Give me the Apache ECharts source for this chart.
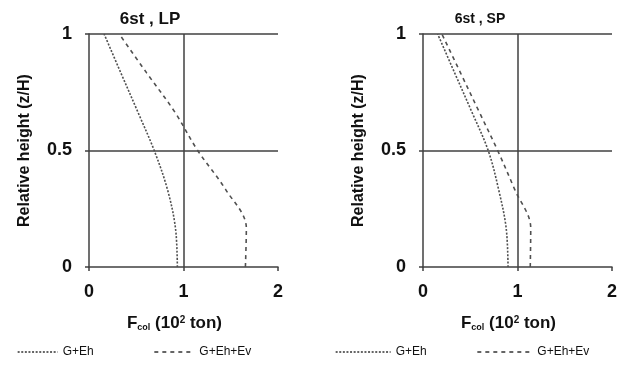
<!DOCTYPE html>
<html>
<head>
<meta charset="utf-8">
<script src="https://cdn.jsdelivr.net/npm/echarts@6/dist/echarts.min.js"></script>
<style>
  html, body { margin: 0; padding: 0; background: #fff; }
  #chart { width: 624px; height: 366px; }
</style>
</head>
<body>
<div id="chart"></div>
<script>
// Relative height levels (z/H) at each storey of the 6-storey frame
const heightLevels = [0, 0.167, 0.333, 0.5, 0.667, 0.833, 1];

// Column force F_col (10^2 ton), long-period (LP) record
const lpGEh   = [0.935, 0.915, 0.83, 0.69, 0.515, 0.337, 0.16];
const lpGEhEv = [1.655, 1.665, 1.445, 1.15, 0.905, 0.61, 0.32];

// Column force F_col (10^2 ton), short-period (SP) record
const spGEh   = [0.90, 0.88, 0.80, 0.69, 0.515, 0.335, 0.155];
const spGEhEv = [1.135, 1.14, 0.97, 0.79, 0.593, 0.397, 0.20];

const xTicks = [0, 1, 2];
const yTicks = [0, 0.5, 1];
const panelTitles = ['6st , LP', '6st , SP'];
const seriesNames = ['G+Eh', 'G+Eh+Ev'];

const FONT = 'Arial, "Liberation Sans", sans-serif';
const AXIS_COLOR = '#404040';

function pairs(xs) {
  return xs.map((x, i) => [x, heightLevels[i]]);
}

function xAxis(gridIndex) {
  return {
    type: 'value', gridIndex,
    min: xTicks[0], max: xTicks[xTicks.length - 1], interval: 1,
    name: '{f|F}{sub|col}{t| (10}{sup|2}{t| ton)}',
    nameLocation: 'middle', nameGap: 48,
    nameTextStyle: {
      padding: [0, 18, 0, 0],
      rich: {
        f:   { fontFamily: FONT, fontSize: 17, fontWeight: 'bold', color: '#111' },
        t:   { fontFamily: FONT, fontSize: 17, fontWeight: 'bold', color: '#111' },
        sub: { fontFamily: FONT, fontSize: 9, fontWeight: 'bold', color: '#111', verticalAlign: 'bottom', padding: [7, 0, 0, 0] },
        sup: { fontFamily: FONT, fontSize: 10, fontWeight: 'bold', color: '#111', verticalAlign: 'top', padding: [0, 0, 6, 0] }
      }
    },
    axisLine: { show: true, onZero: false, lineStyle: { color: AXIS_COLOR, width: 1.5 } },
    axisTick: { show: true, length: 4, lineStyle: { color: AXIS_COLOR, width: 1.5 } },
    axisLabel: { margin: 16, fontFamily: FONT, fontSize: 18, fontWeight: 'bold', color: '#111' },
    splitLine: { show: true, showMinLine: false, showMaxLine: false, lineStyle: { color: AXIS_COLOR, width: 1.5 } }
  };
}

function yAxis(gridIndex) {
  return {
    type: 'value', gridIndex,
    min: yTicks[0], max: yTicks[yTicks.length - 1], interval: 0.5,
    name: 'Relative height (z/H)',
    nameLocation: 'middle', nameGap: 56,
    nameTextStyle: { fontFamily: FONT, fontSize: 16, fontWeight: 'bold', color: '#111' },
    axisLine: { show: true, onZero: false, lineStyle: { color: AXIS_COLOR, width: 1.5 } },
    axisTick: { show: true, length: 4, lineStyle: { color: AXIS_COLOR, width: 1.5 } },
    axisLabel: { margin: 17, fontFamily: FONT, fontSize: 18, fontWeight: 'bold', color: '#111' },
    splitLine: { show: true, showMinLine: false, lineStyle: { color: AXIS_COLOR, width: 1.5 } }
  };
}

const dottedStyle = { color: '#505050', width: 1.6, type: [2, 1.6] };
const dashedStyle = { color: '#505050', width: 1.6, type: [4, 4] };

function curve(name, idx, values, style) {
  return {
    name, type: 'line', xAxisIndex: idx, yAxisIndex: idx,
    data: pairs(values), smooth: 0.35, symbol: 'none',
    lineStyle: style, itemStyle: { color: style.color },
    silent: true, animation: false
  };
}

// Line-only legend keys: the marker symbol is hidden, the dash pattern is kept
function legend(left, width, gap) {
  return {
    left, bottom: 3, itemWidth: width, itemHeight: 8, itemGap: gap,
    data: seriesNames, selectedMode: false, orient: 'horizontal',
    itemStyle: { opacity: 0 },
    lineStyle: { color: '#333', width: 1.3 },
    textStyle: { fontFamily: FONT, fontSize: 12, color: '#111' }
  };
}

const chart = echarts.init(document.getElementById('chart'), null, { renderer: 'canvas' });
chart.setOption({
  animation: false,
  backgroundColor: '#fff',
  title: [
    { text: panelTitles[0], left: 145, top: 6, textAlign: 'center',
      textStyle: { fontFamily: FONT, fontSize: 17, fontWeight: 'bold', color: '#111' } },
    { text: panelTitles[1], left: 475, top: 7, textAlign: 'center',
      textStyle: { fontFamily: FONT, fontSize: 14, fontWeight: 'bold', color: '#111' } }
  ],
  grid: [
    { left: 89, top: 34, width: 189, height: 233 },
    { left: 423, top: 34, width: 189, height: 233 }
  ],
  xAxis: [xAxis(0), xAxis(1)],
  yAxis: [yAxis(0), yAxis(1)],
  legend: [legend(12, 40, 60), legend(330, 55, 50)],
  series: [
    curve(seriesNames[0], 0, lpGEh, dottedStyle),
    curve(seriesNames[1], 0, lpGEhEv, dashedStyle),
    curve(seriesNames[0], 1, spGEh, dottedStyle),
    curve(seriesNames[1], 1, spGEhEv, dashedStyle)
  ]
});
</script>
</body>
</html>
